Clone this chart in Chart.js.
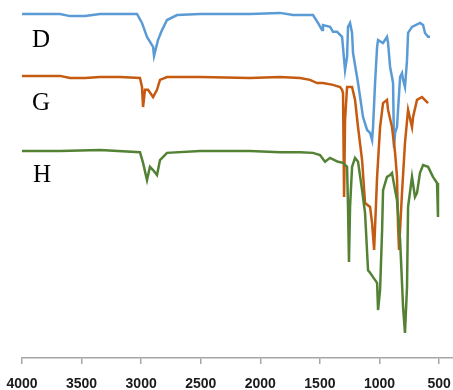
<!DOCTYPE html>
<html>
<head>
<meta charset="utf-8">
<script src="https://cdn.jsdelivr.net/npm/chart.js@4/dist/chart.umd.min.js"></script>
<style>
html,body{margin:0;padding:0;background:#fff;}
#wrap{width:453px;height:390px;position:relative;}
</style>
</head>
<body>
<div id="wrap"><canvas id="c"></canvas></div>
<script>
// x-axis tick labels (wavenumber, cm-1)
const tickValues = [4000, 3500, 3000, 2500, 2000, 1500, 1000, 500];

// Spectrum D (blue)
const dWave = [4000,3849,3681,3597,3471,3345,3177,3035,2993,2951,2900,2892,2859,2825,2783,2699,2506,2086,1835,1725,1558,1516,1482,1474,1415,1390,1356,1314,1289,1272,1264,1247,1230,1222,1180,1138,1104,1079,1062,1054,1037,1020,1012,970,937,928,911,895,886,878,869,853,827,811,802,786,769,760,727,660,634,618,592,576];
const dVal  = [96.1,96.1,96.1,95.5,95.5,96.1,96.1,96.1,93.6,89.7,86.9,84.4,88.8,91.6,94.4,95.8,96.1,96.1,96.4,95.8,95.8,93.6,91.6,93.0,92.5,91.1,91.1,89.7,80.4,84.1,92.5,93.6,90.8,85.2,76.8,67.3,63.7,62.9,60.9,64.5,76.8,86.9,88.8,88.0,89.7,88.0,81.3,78.5,76.8,58.7,62.9,64.5,78.5,79.6,77.7,75.7,83.2,90.8,92.5,93.6,93.0,90.8,89.7,89.7];

// Spectrum G (orange)
const gWave = [4000,3681,3597,3471,3345,3177,3010,2993,2984,2968,2942,2900,2867,2842,2783,2506,2086,1835,1667,1583,1524,1474,1390,1331,1314,1306,1297,1289,1272,1230,1205,1180,1146,1121,1079,1062,1045,1037,1020,995,970,937,928,895,869,853,844,836,811,786,760,727,718,685,643,601,592];
const gVal  = [78.8,78.8,78.2,78.2,78.5,78.5,78.2,75.7,70.1,74.9,74.9,72.9,74.9,77.7,78.5,78.5,78.2,78.5,78.2,77.7,76.8,76.8,76.3,75.7,74.9,74.0,45.0,66.5,75.7,75.7,72.1,64.5,55.3,43.3,42.2,37.7,30.2,36.6,50.6,64.5,71.2,72.1,69.3,64.5,57.3,50.6,36.6,30.2,46.1,60.1,69.3,64.5,67.3,72.1,72.9,71.5,71.2];

// Spectrum H (green)
const hWave = [4000,3681,3345,3010,2984,2951,2926,2900,2867,2842,2783,2506,2086,1835,1667,1558,1499,1457,1415,1348,1306,1272,1264,1256,1247,1230,1205,1180,1146,1121,1096,1079,1054,1020,1012,995,978,970,937,911,895,869,853,827,802,786,769,760,727,702,685,660,634,592,551,517,509];
const hVal  = [57.8,57.8,58.1,57.5,54.5,49.7,53.4,52.5,51.1,55.3,57.3,57.8,57.8,57.5,57.5,57.3,56.7,54.8,55.9,54.8,54.5,53.4,42.2,26.8,42.2,53.4,55.9,54.8,46.9,40.5,24.5,23.8,22.6,21.0,13.4,19.0,35.7,46.9,50.6,51.1,51.7,46.9,44.1,33.0,14.3,7.0,19.8,42.2,50.6,45.0,46.1,51.7,53.9,53.4,50.6,48.9,39.4];

const seriesNames = ['D', 'G', 'H'];

function pts(xs, ys) { return xs.map((x, i) => ({x: x, y: ys[i]})); }

const labelPlugin = {
  id: 'seriesLabels',
  afterDraw(chart) {
    const ctx = chart.ctx;
    ctx.save();
    ctx.fillStyle = '#000';
    ctx.font = '25px "Liberation Serif", "Times New Roman", serif';
    ctx.textBaseline = 'alphabetic';
    ctx.textAlign = 'left';
    const pos = [[32, 47], [32, 110], [33, 182]];
    seriesNames.forEach((n, i) => ctx.fillText(n, pos[i][0], pos[i][1]));
    ctx.restore();
  }
};

new Chart(document.getElementById('c'), {
  type: 'line',
  data: {
    datasets: [
      {label: seriesNames[0], data: pts(dWave, dVal), borderColor: '#5B9BD5', order: 2},
      {label: seriesNames[1], data: pts(gWave, gVal), borderColor: '#C55A11', order: 1},
      {label: seriesNames[2], data: pts(hWave, hVal), borderColor: '#548235', order: 0}
    ]
  },
  options: {
    responsive: true,
    maintainAspectRatio: false,
    animation: false,
    devicePixelRatio: 1,
    layout: {padding: {left: 22, right: 0, top: 0, bottom: 0}},
    elements: {
      line: {borderWidth: 2.5, tension: 0, fill: false},
      point: {radius: 0}
    },
    plugins: {legend: {display: false}, tooltip: {enabled: false}},
    scales: {
      x: {
        type: 'linear',
        reverse: true,
        min: 383,
        max: 4000,
        afterBuildTicks: (axis) => { axis.ticks = tickValues.map(v => ({value: v})); },
        afterFit: (axis) => {
          axis.height = 32;
          axis.paddingLeft = 0; axis.paddingRight = 0;
          axis.paddingTop = 0; axis.paddingBottom = 0;
        },
        grid: {display: true, drawOnChartArea: false, drawTicks: true, tickLength: 6, color: '#A6A6A6', lineWidth: 1.5},
        border: {display: true, color: '#A6A6A6', width: 1.5},
        ticks: {
          autoSkip: false,
          maxRotation: 0,
          padding: 12,
          color: '#1a1a1a',
          font: {family: '"Liberation Sans", Arial, sans-serif', size: 14, weight: 'bold'},
          callback: (v) => String(v)
        }
      },
      y: {display: false, min: 0, max: 100}
    }
  },
  plugins: [labelPlugin]
});
</script>
</body>
</html>
